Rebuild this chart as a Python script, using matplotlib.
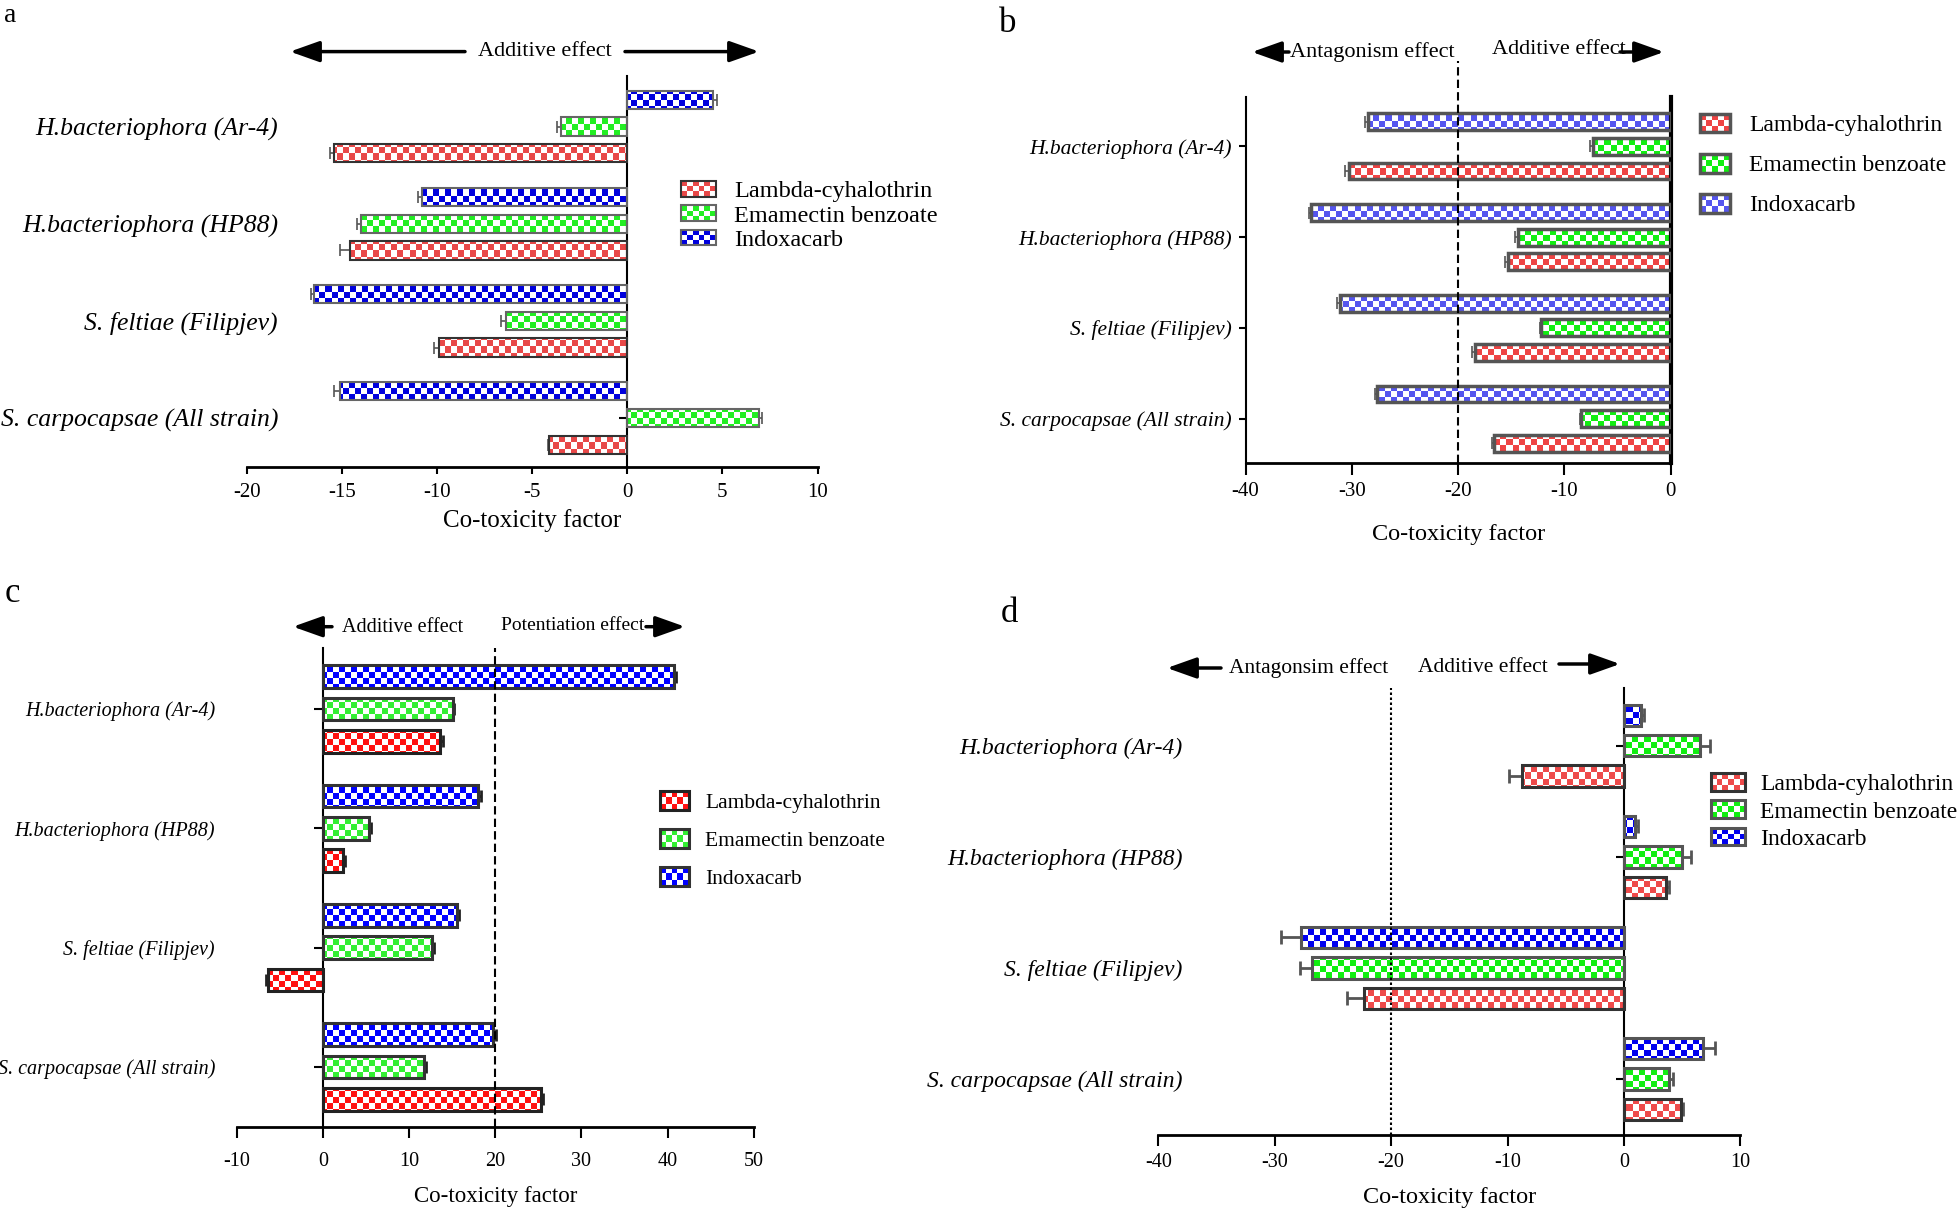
import numpy as np
import matplotlib.pyplot as plt
from matplotlib.colors import to_rgb
from matplotlib.patches import Rectangle
from matplotlib.legend_handler import HandlerBase
from matplotlib.transforms import blended_transform_factory

plt.rcParams['font.family'] = 'serif'
plt.rcParams['font.serif'] = ['Liberation Serif', 'DejaVu Serif']
plt.rcParams['axes.unicode_minus'] = False

W, H = 1960, 1212   # figure size in pixels (dpi 100)

strains = ['H.bacteriophora (Ar-4)', 'H.bacteriophora (HP88)',
           'S. feltiae (Filipjev)', 'S. carpocapsae (All strain)']
insecticides = ['Lambda-cyhalothrin', 'Emamectin benzoate', 'Indoxacarb']

# co-toxicity factors, order of strains as above
a_lambda = [-15.4, -14.6, -9.9, -4.1]
a_lambda_err = [0.25, 0.5, 0.25, 0.05]
a_emam = [-3.5, -14.0, -6.4, 6.9]
a_emam_err = [0.2, 0.2, 0.25, 0.2]
a_indox = [4.5, -10.8, -16.5, -15.1]
a_indox_err = [0.2, 0.2, 0.15, 0.3]

b_lambda = [-30.3, -15.3, -18.4, -16.6]
b_lambda_err = [0.3, 0.3, 0.3, 0.2]
b_emam = [-7.35, -14.4, -12.2, -8.4]
b_emam_err = [0.2, 0.2, 0.1, 0.1]
b_indox = [-28.5, -33.8, -31.1, -27.6]
b_indox_err = [0.3, 0.2, 0.3, 0.2]

c_lambda = [13.6, 2.3, -6.4, 25.3]
c_lambda_err = [0.3, 0.25, 0.2, 0.25]
c_emam = [15.1, 5.3, 12.6, 11.7]
c_emam_err = [0.15, 0.25, 0.25, 0.25]
c_indox = [40.7, 18.0, 15.5, 19.7]
c_indox_err = [0.25, 0.3, 0.25, 0.35]

d_lambda = [-8.8, 3.6, -22.3, 4.9]
d_lambda_err = [1.1, 0.25, 1.45, 0.15]
d_emam = [6.5, 5.0, -26.8, 3.9]
d_emam_err = [0.9, 0.75, 1.0, 0.3]
d_indox = [1.5, 0.95, -27.7, 6.75]
d_indox_err = [0.2, 0.25, 1.8, 1.05]

CELL = 6  # checker cell, px


def checker(color, nx, ny):
    img = np.ones((ny, nx, 3))
    mask = (np.add.outer(np.arange(ny), np.arange(nx)) % 2) == 0
    img[mask] = to_rgb(color)
    return img


class CheckerKey:
    def __init__(self, color, edge, lw):
        self.color, self.edge, self.lw = color, edge, lw


class HandlerChecker(HandlerBase):
    def create_artists(self, legend, orig, xdescent, ydescent, width, height,
                       fontsize, trans):
        x0, y0 = -xdescent, -ydescent
        cell = CELL * 72 / 100
        nx = max(2, int(round(width / cell)))
        ny = max(2, int(round(height / cell)))
        cw, ch = width / nx, height / ny
        arts = [Rectangle((x0, y0), width, height, facecolor='white',
                          edgecolor='none', transform=trans)]
        for i in range(ny):
            for j in range(nx):
                if (i + j) % 2 == 0:
                    arts.append(Rectangle((x0 + j * cw, y0 + i * ch), cw, ch,
                                          facecolor=orig.color, edgecolor='none',
                                          transform=trans))
        arts.append(Rectangle((x0, y0), width, height, facecolor='none',
                              edgecolor=orig.edge, lw=orig.lw, transform=trans))
        return arts


fig = plt.figure(figsize=(W / 100, H / 100), dpi=100)


def fx(x):
    return x / W


def fy(y):
    return 1 - y / H


def panel(box, xlim, ylim, values, errors, colors, edges, lw, off, bh,
          ecolor, elw, capsize):
    x0, y0, x1, y1 = box
    ax = fig.add_axes([fx(x0), fy(y1), (x1 - x0) / W, (y1 - y0) / H])
    nx, ny = int((x1 - x0) / CELL), int((y1 - y0) / CELL)
    pos = np.arange(len(strains))[::-1]
    for k, (vals, errs, col, ec) in enumerate(zip(values, errors, colors, edges)):
        y = pos + (k - 1) * off
        bars = ax.barh(y, vals, height=bh, facecolor='none', edgecolor=ec,
                       linewidth=lw, zorder=3)
        img = checker(col, nx, ny)
        for bar in bars:
            im = ax.imshow(img, extent=(*xlim, *ylim), aspect='auto',
                           interpolation='nearest', origin='lower', zorder=2)
            im.set_clip_path(bar)
        vals, errs = np.array(vals), np.array(errs)
        lo = np.where(vals < 0, errs, 0)
        hi = np.where(vals < 0, 0, errs)
        ax.errorbar(vals, y, xerr=[lo, hi], fmt='none', ecolor=ecolor,
                    elinewidth=elw, capsize=capsize, capthick=elw, zorder=2.5)
    ax.set_xlim(xlim)
    ax.set_ylim(ylim)
    ax.set_yticks(pos)
    ax.spines['top'].set_visible(False)
    ax.spines['right'].set_visible(False)
    return ax, pos


def strain_labels(ax, pos, xr, size):
    tr = blended_transform_factory(fig.transFigure, ax.transData)
    for p, s in zip(pos, strains):
        ax.text(fx(xr), p, s, transform=tr, ha='right', va='center_baseline',
                style='italic', fontsize=size)


def legend(ax, colors, edges, lw, x, y, size, hl, hh, tp, ls):
    keys = [CheckerKey(c, e, lw) for c, e in zip(colors, edges)]
    ax.legend(keys, insecticides, handler_map={CheckerKey: HandlerChecker()},
              loc='center left', bbox_to_anchor=(fx(x), fy(y)),
              bbox_transform=fig.transFigure, frameon=False, borderpad=0,
              borderaxespad=0, fontsize=size, handlelength=hl, handleheight=hh,
              handletextpad=tp, labelspacing=ls)


def arrow(ax, tail, tip, y, lw=2.5, ms=20):
    ax.annotate('', xy=(tip, H - y), xytext=(tail, H - y),
                xycoords='figure pixels', textcoords='figure pixels',
                arrowprops=dict(arrowstyle='-|>,head_length=0.9,head_width=0.32',
                                color='black', lw=lw, mutation_scale=ms,
                                shrinkA=0, shrinkB=0),
                annotation_clip=False)


def note(x, y, s, size):
    fig.text(fx(x), fy(y), s, ha='center', va='baseline', fontsize=size)


# ---------------- panel a
a_cols = ['#e84848', '#22ee22', '#0000dd']
a_edges = ['#333333', '#666666', '#666666']
ax, pos = panel((247, 76, 817.5, 466.6), (-20, 10), (-0.5, 3.52),
                [a_lambda, a_emam, a_indox], [a_lambda_err, a_emam_err, a_indox_err],
                a_cols, a_edges, 1.5, 0.275, 0.188, '#555555', 1.2, 4)
ax.spines['left'].set_position(('data', 0))
ax.spines['left'].set_linewidth(1.5)
ax.spines['bottom'].set_linewidth(2)
ax.set_yticklabels([])
ax.tick_params(axis='y', length=6, width=1.5)
ax.set_xticks(np.arange(-20, 11, 5))
ax.tick_params(axis='x', length=5, width=1.5, labelsize=15, pad=7)
ax.set_xlabel('Co-toxicity factor', fontsize=18, labelpad=4.5)
strain_labels(ax, pos, 278, 18.5)
legend(ax, a_cols, a_edges, 1.5, 681, 216, 17.5, 1.45, 0.62, 0.74, 0.12)
note(544.5, 56, 'Additive effect', 16)
arrow(ax, 465, 290, 51.6)
arrow(ax, 625, 759, 51.6)
fig.text(fx(4), fy(22), 'a', fontsize=20, va='baseline')

# ---------------- panel b
b_cols = ['#ee4444', '#11ee11', '#5555ee']
b_edges = ['#555555', '#555555', '#555555']
ax, pos = panel((1245.6, 97, 1670.6, 463), (-40, 0), (-0.49, 3.545),
                [b_lambda, b_emam, b_indox], [b_lambda_err, b_emam_err, b_indox_err],
                b_cols, b_edges, 2.5, 0.271, 0.185, '#555555', 1.2, 4)
ax.spines['right'].set_visible(True)
ax.spines['right'].set_linewidth(3)
ax.spines['left'].set_linewidth(1.5)
ax.spines['bottom'].set_linewidth(2)
ax.set_yticklabels(strains, fontstyle='italic')
ax.tick_params(axis='y', length=5, width=1.5, labelsize=15.5, pad=5)
ax.set_xticks(np.arange(-40, 1, 10))
ax.tick_params(axis='x', length=8.5, width=1.5, labelsize=15, pad=5)
ax.set_xlabel('Co-toxicity factor', fontsize=17.5, labelpad=17)
ax.axvline(-20, ymin=0, ymax=(463 - 61) / (463 - 97), color='black', lw=1.5,
           ls=(0, (4, 2)), clip_on=False, zorder=4)
legend(ax, b_cols, b_edges, 2.5, 1700, 165, 17, 1.27, 0.85, 0.8, 0.74)
note(1372, 56.7, 'Antagonism effect', 16)
note(1559, 54.3, 'Additive effect', 16)
arrow(ax, 1289, 1252, 52)
arrow(ax, 1620, 1664, 52)
fig.text(fx(999), fy(32), 'b', fontsize=25, va='baseline')

# ---------------- panel c
c_cols = ['#ff1010', '#33ee33', '#0000ff']
c_edges = ['#222222', '#333333', '#333333']
ax, pos = panel((237, 647.7, 753.7, 1127), (-10, 50), (-0.504, 3.514),
                [c_lambda, c_emam, c_indox], [c_lambda_err, c_emam_err, c_indox_err],
                c_cols, c_edges, 2.2, 0.271, 0.19, '#222222', 2, 4)
ax.spines['left'].set_position(('data', 0))
ax.spines['left'].set_linewidth(1.5)
ax.spines['bottom'].set_linewidth(2)
ax.set_yticklabels([])
ax.tick_params(axis='y', length=6.5, width=1.5)
ax.set_xticks(np.arange(-10, 51, 10))
ax.tick_params(axis='x', length=8, width=1.5, labelsize=14.5, pad=10)
ax.set_xlabel('Co-toxicity factor', fontsize=16.5, labelpad=11)
ax.axvline(20, color='black', lw=1.5, ls=(0, (4, 2)), zorder=4)
strain_labels(ax, pos, 215, 14.5)
legend(ax, c_cols, c_edges, 2.2, 660, 840, 15.5, 1.35, 0.97, 0.74, 0.75)
note(402.5, 631.7, 'Additive effect', 14.5)
note(572.5, 630, 'Potentiation effect', 14)
arrow(ax, 332, 293, 626.7)
arrow(ax, 646, 685, 626.7)
fig.text(fx(5), fy(602), 'c', fontsize=25, va='baseline')

# ---------------- panel d
d_cols = ['#ee4a4a', '#11ee11', '#0000ee']
d_edges = ['#333333', '#555555', '#555555']
ax, pos = panel((1158.3, 688, 1740.4, 1135), (-40, 10), (-0.505, 3.52),
                [d_lambda, d_emam, d_indox], [d_lambda_err, d_emam_err, d_indox_err],
                d_cols, d_edges, 2.2, 0.274, 0.193, '#555555', 2, 5)
ax.spines['left'].set_position(('data', 0))
ax.spines['left'].set_linewidth(1.5)
ax.spines['bottom'].set_linewidth(2)
ax.set_yticklabels([])
ax.tick_params(axis='y', length=5.5, width=1.5)
ax.set_xticks(np.arange(-40, 11, 10))
ax.tick_params(axis='x', length=8, width=1.5, labelsize=14.5, pad=5)
ax.set_xlabel('Co-toxicity factor', fontsize=17.5, labelpad=11)
ax.axvline(-20, color='black', lw=1.5, ls=(0, (1.2, 1.2)), zorder=4)
strain_labels(ax, pos, 1182.6, 17)
legend(ax, d_cols, d_edges, 2.2, 1711, 811.5, 17, 1.45, 0.77, 0.64, 0.22)
note(1308.5, 672.7, 'Antagonsim effect', 15.5)
note(1482.5, 672, 'Additive effect', 15.5)
arrow(ax, 1221, 1167, 668)
arrow(ax, 1559, 1620, 664)
fig.text(fx(1001), fy(622), 'd', fontsize=25, va='baseline')

fig.savefig('out.png', dpi=100)
